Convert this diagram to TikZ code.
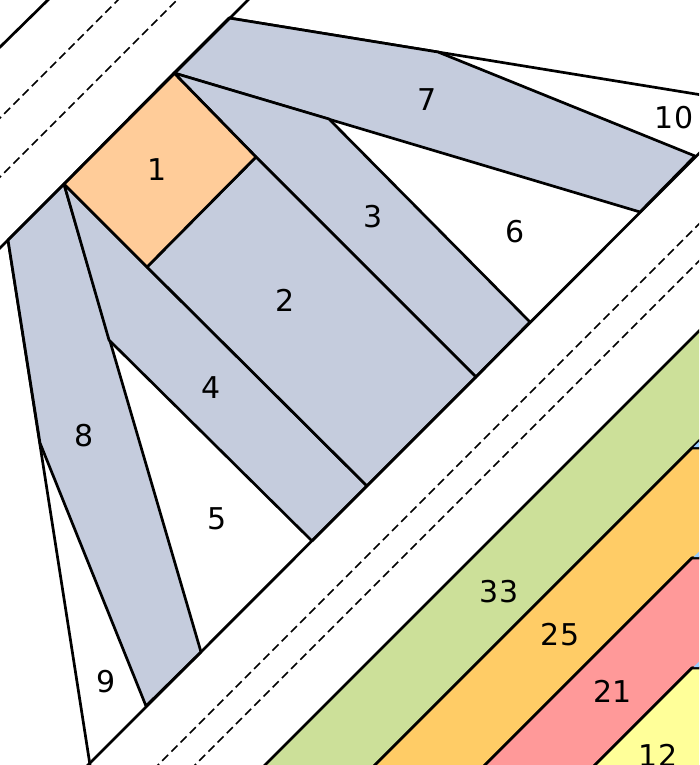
\documentclass[tikz,border=0pt]{standalone}
\usepackage{fontspec}
\setmainfont{DejaVu Sans}
\definecolor{slate}{HTML}{C5CCDD}
\definecolor{peach}{HTML}{FFCC99}
\definecolor{leaf}{HTML}{CCE099}
\definecolor{amber}{HTML}{FFCC66}
\definecolor{rose}{HTML}{FF9999}
\definecolor{lemon}{HTML}{FFFF99}
\definecolor{sky}{HTML}{99CCFF}
\tikzset{
  seam/.style={draw=black,line width=2.7pt,line join=round},
  fold/.style={draw=black,line width=1.5pt,dash pattern=on 8.5pt off 4.5pt},
  piece/.style={seam,fill=#1},
  num/.style={font=\fontsize{30}{30}\selectfont,inner sep=0pt,text=black}
}
\begin{document}
\begin{tikzpicture}[x=1pt,y=-1pt]
\useasboundingbox (0,0) rectangle (699,765);
\clip (0,0) rectangle (699,765);
\fill[white] (0,0) rectangle (699,765);
% fold and seam lines outside the block
\draw[seam] (-5,52) -- (53,-5);
\draw[fold] (-5,123) -- (123,-5);
\draw[fold] (-5,182) -- (182,-5);
\draw[fold] (153,770) -- (704,219);
\draw[fold] (190,770) -- (704,256);
% outer block lines
\draw[seam] (229,18) -- (705,95.5);
\draw[seam] (8,240) -- (90,765);
% pieces
\path[piece=slate] (229,18) -- (438,52) -- (695,156) -- (640,212) -- (174,73) -- cycle;
\path[piece=slate] (8,240) -- (64,184) -- (201,652) -- (146,706) -- (40,443) -- cycle;
\path[piece=slate] (174,73) -- (329,119) -- (530,322) -- (476,377) -- (256,157) -- cycle;
\path[piece=slate] (64,184) -- (147,267) -- (367,486) -- (312,541) -- (109,340) -- cycle;
\path[piece=slate] (147,267) -- (256,157) -- (476,377) -- (367,486) -- cycle;
\path[piece=peach] (64,184) -- (174,73) -- (256,157) -- (147,267) -- cycle;
\draw[seam] (-5,253) -- (253,-5);
\draw[seam] (83,770) -- (704,148.5);
% outer strips
\path[piece=leaf] (255,775) -- (709,321) -- (709,431) -- (365,775) -- cycle;
\path[piece=amber] (365,775) -- (692,448) -- (710,448) -- (710,558) -- (692,558) -- (475,775) -- cycle;
\path[piece=rose] (475,775) -- (692,558) -- (710,558) -- (710,668) -- (692,668) -- (585,775) -- cycle;
\path[piece=lemon] (585,775) -- (692,668) -- (710,668) -- (710,775) -- cycle;
\path[fill=sky] (693.5,447) -- (699,441.5) -- (699,447) -- cycle;
\path[fill=sky] (693.5,557) -- (699,551.5) -- (699,557) -- cycle;
\path[fill=sky] (693.5,667) -- (699,661.5) -- (699,667) -- cycle;
% labels
\node[num] (n1) at (157.5,170) {1};
\node[num] (n2) at (285.5,300) {2};
\node[num] (n3) at (373.5,217) {3};
\node[num] (n4) at (211.5,388) {4};
\node[num] (n5) at (217.5,519) {5};
\node[num] (n6) at (515.5,232) {6};
\node[num] (n7) at (427.5,100) {7};
\node[num] (n8) at (84.5,436) {8};
\node[num] (n9) at (106.5,682) {9};
\node[num] (n10) at (674,118) {10};
\node[num] (n33) at (499,592) {33};
\node[num] (n25) at (560,635) {25};
\node[num] (n21) at (612.5,691) {21};
\node[num] (n12) at (658,755) {12};
\end{tikzpicture}
\end{document}
